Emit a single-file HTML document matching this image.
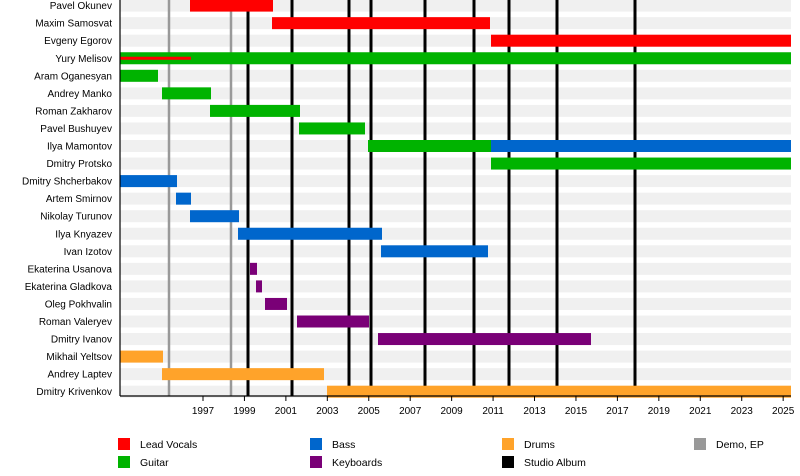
<!DOCTYPE html>
<html><head><meta charset="utf-8"><style>body{margin:0;background:#fff}svg{display:block}</style></head><body>
<svg width="800" height="476" xmlns="http://www.w3.org/2000/svg" font-family="Liberation Sans, sans-serif" font-size="10">
<g id="stripes" fill="#f0f0f0"></g>
<g id="lines"></g>
<g id="bars"></g>
<g id="labels" text-anchor="end" fill="#000"></g>
<line x1="120" y1="0" x2="120" y2="396" stroke="#000" stroke-width="1.2"/>
<line x1="120" y1="396" x2="791" y2="396" stroke="#000" stroke-width="1.2"/>
<g id="ticks" text-anchor="middle"></g>
<g font-size="10.5">
<rect x="118" y="438" width="12" height="12" fill="#ff0000"/><text x="140" y="448">Lead Vocals</text>
<rect x="118" y="456" width="12" height="12" fill="#00b300"/><text x="140" y="466">Guitar</text>
<rect x="310" y="438" width="12" height="12" fill="#0066cc"/><text x="332" y="448">Bass</text>
<rect x="310" y="456" width="12" height="12" fill="#7a0077"/><text x="332" y="466">Keyboards</text>
<rect x="502" y="438" width="12" height="12" fill="#ffa32a"/><text x="524" y="448">Drums</text>
<rect x="502" y="456" width="12" height="12" fill="#000"/><text x="524" y="466">Studio Album</text>
<rect x="694" y="438" width="12" height="12" fill="#999"/><text x="716" y="448">Demo, EP</text>
</g>
<script>
var ns="http://www.w3.org/2000/svg";
function el(p,t,a,txt){var e=document.createElementNS(ns,t);for(var k in a)e.setAttribute(k,a[k]);if(txt)e.textContent=txt;document.getElementById(p).appendChild(e);}
var names=["Pavel Okunev","Maxim Samosvat","Evgeny Egorov","Yury Melisov","Aram Oganesyan","Andrey Manko","Roman Zakharov","Pavel Bushuyev","Ilya Mamontov","Dmitry Protsko","Dmitry Shcherbakov","Artem Smirnov","Nikolay Turunov","Ilya Knyazev","Ivan Izotov","Ekaterina Usanova","Ekaterina Gladkova","Oleg Pokhvalin","Roman Valeryev","Dmitry Ivanov","Mikhail Yeltsov","Andrey Laptev","Dmitry Krivenkov"];
function cy(i){return 5.6+17.55*i;}
names.forEach(function(n,i){el("stripes","rect",{x:120,y:cy(i)-6,width:671,height:12});el("labels","text",{x:112,y:cy(i)+3.5},n);});
[[169,"#999"],[231,"#999"]].forEach(function(l){el("lines","rect",{x:l[0]-1.25,y:0,width:2.5,height:396,fill:l[1]});});
[248,292,349,371,425,474,509,557,635].forEach(function(x){el("lines","rect",{x:x-1.5,y:0,width:3,height:396,fill:"#000"});});
var R="#ff0000",G="#00b300",B="#0066cc",P="#7a0077",O="#ffa32a";
var bars=[[0,190,273,R],[1,272,490,R],[2,491,791,R],[3,120,791,G],[4,120,158,G],[5,162,211,G],[6,210,300,G],[7,299,365,G],[8,368,491,G],[8,491,791,B],[9,491,791,G],[10,120,177,B],[11,176,191,B],[12,190,239,B],[13,238,382,B],[14,381,488,B],[15,250,257,P],[16,256,262,P],[17,265,287,P],[18,297,369,P],[19,378,591,P],[20,120,163,O],[21,162,324,O],[22,327,791,O]];
bars.forEach(function(b){el("bars","rect",{x:b[1],y:cy(b[0])-6,width:b[2]-b[1],height:12,fill:b[3]});});
el("bars","rect",{x:120,y:cy(3)-1.5,width:71,height:3,fill:R});
for(var y=1997;y<=2025;y+=2){var x=203+(y-1997)*20.72;el("ticks","line",{x1:x,y1:396,x2:x,y2:401,stroke:"#000"});el("ticks","text",{x:x,y:414},""+y);}
</script>
</svg>
</body></html>
